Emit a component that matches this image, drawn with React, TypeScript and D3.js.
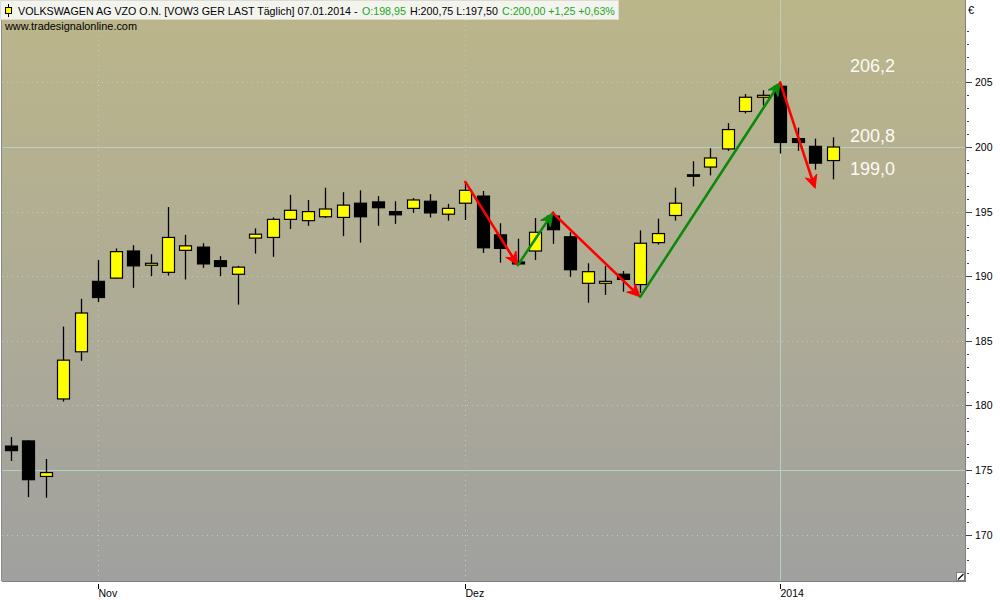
import { useEffect, useRef } from 'react';
import * as d3 from 'd3';

// Daily candles VOW3, 25.10.2013 - 07.01.2014
const dates = [
  '2013-10-25', '2013-10-28', '2013-10-29', '2013-10-30', '2013-10-31',
  '2013-11-01', '2013-11-04', '2013-11-05', '2013-11-06', '2013-11-07', '2013-11-08',
  '2013-11-11', '2013-11-12', '2013-11-13', '2013-11-14', '2013-11-15',
  '2013-11-18', '2013-11-19', '2013-11-20', '2013-11-21', '2013-11-22',
  '2013-11-25', '2013-11-26', '2013-11-27', '2013-11-28', '2013-11-29',
  '2013-12-02', '2013-12-03', '2013-12-04', '2013-12-05', '2013-12-06',
  '2013-12-09', '2013-12-10', '2013-12-11', '2013-12-12', '2013-12-13',
  '2013-12-16', '2013-12-17', '2013-12-18', '2013-12-19', '2013-12-20',
  '2013-12-23', '2013-12-27', '2013-12-30',
  '2014-01-02', '2014-01-03', '2014-01-06', '2014-01-07',
];
const opens = [
  176.85, 177.25, 174.5, 180.5, 184.15,
  189.6, 189.85, 191.95, 190.85, 190.3, 192.0,
  192.25, 191.2, 190.15, 192.95, 193.0,
  194.4, 194.3, 194.6, 194.55, 195.65,
  195.75, 195.0, 195.25, 195.8, 194.8,
  195.65, 196.2, 193.2, 191.1, 191.95,
  194.65, 193.05, 189.45, 189.45, 190.15,
  189.35, 192.6, 194.7, 197.85, 198.45,
  199.85, 202.75, 203.85,
  204.7, 200.65, 200.05, 198.95,
];
const highs = [
  177.55, 177.3, 175.85, 186.1, 188.25,
  191.25, 192.15, 192.4, 191.7, 195.35, 193.2,
  192.55, 191.55, 190.8, 193.7, 194.55,
  196.3, 195.9, 196.85, 196.5, 196.65,
  196.2, 195.8, 196.05, 196.35, 195.6,
  197.3, 196.6, 194.1, 192.9, 194.5,
  195.0, 193.4, 191.0, 190.8, 190.4,
  193.55, 194.45, 196.85, 198.9, 199.9,
  201.85, 204.1, 204.4,
  204.95, 201.5, 200.65, 200.75,
];
const lows = [
  175.7, 172.9, 172.85, 180.3, 183.45,
  188.0, 189.8, 189.1, 190.0, 190.05, 189.75,
  190.65, 190.0, 187.8, 191.75, 191.5,
  193.65, 193.9, 194.5, 193.1, 192.6,
  193.9, 194.05, 194.9, 194.55, 194.3,
  194.35, 191.8, 191.05, 190.9, 191.25,
  192.5, 189.95, 187.95, 188.55, 188.8,
  188.7, 192.45, 194.3, 196.95, 197.8,
  199.7, 202.6, 203.2,
  199.5, 199.7, 198.25, 197.5,
];
const closes = [
  176.5, 174.25, 174.8, 183.5, 187.15,
  188.35, 191.9, 190.8, 191.0, 193.0, 192.35,
  190.95, 190.75, 190.7, 193.25, 194.4,
  195.1, 195.0, 195.2, 195.5, 194.6,
  195.3, 194.75, 195.9, 194.9, 195.25,
  196.65, 192.2, 192.15, 190.95, 193.4,
  193.6, 190.5, 190.35, 189.6, 189.75,
  192.55, 193.3, 195.65, 197.85, 199.15,
  201.35, 203.85, 204.0,
  200.35, 200.35, 198.75, 200.0,
];

// month ticks on the time axis
const monthTickDates = ['2013-11-01', '2013-12-02', '2014-01-02'];
const monthTickLabels = ['Nov', 'Dez', '2014'];
const solidGridDates = ['2014-01-02'];

// price axis
const priceTicks = [170, 175, 180, 185, 190, 195, 200, 205];
const solidGridPrices = [175, 200];

// trend arrows drawn on the chart
const arrowFrom = [
  { date: '2013-12-02', price: 197.3 },
  { date: '2013-12-05', price: 190.85 },
  { date: '2013-12-09', price: 194.9 },
  { date: '2013-12-16', price: 188.4 },
  { date: '2014-01-02', price: 205.0 },
];
const arrowTo = [
  { date: '2013-12-05', price: 190.85 },
  { date: '2013-12-09', price: 194.9 },
  { date: '2013-12-16', price: 188.4 },
  { date: '2014-01-02', price: 205.0 },
  { date: '2014-01-06', price: 196.8 },
];
const arrowDir = ['down', 'up', 'down', 'up', 'down'];

// price annotations on the right
const levelValues = [206.2, 200.8, 199.0];

const W = 1000;
const H = 600;

const fmt = (v: number) => v.toFixed(2).replace('.', ',');

export default function App() {
  const svgRef = useRef<SVGSVGElement>(null);

  useEffect(() => {
    document.body.style.margin = '0';
    if (!svgRef.current) return;

    const left = 2;
    const right = 965;
    const top = 0;
    const bottom = 581;

    const svg = d3.select(svgRef.current);
    svg.selectAll('*').remove();

    const x = d3.scalePoint<string>().domain(dates).range([10.6, 832.6]);
    const y = d3.scaleLinear().domain([175, 200]).range([470, 147]);

    // === background ===
    const defs = svg.append('defs');
    const grad = defs.append('linearGradient')
      .attr('id', 'bg').attr('x1', 0).attr('y1', 0).attr('x2', 0).attr('y2', 1);
    grad.append('stop').attr('offset', '0%').attr('stop-color', '#bbb689');
    grad.append('stop').attr('offset', '55%').attr('stop-color', '#aeab97');
    grad.append('stop').attr('offset', '100%').attr('stop-color', '#a0a09f');

    svg.append('rect').attr('width', W).attr('height', H).attr('fill', '#ffffff');
    svg.append('rect')
      .attr('x', left).attr('y', top)
      .attr('width', right - left).attr('height', bottom - top)
      .attr('fill', 'url(#bg)');

    // === grid ===
    const gridColor = '#b3d2c4';
    priceTicks.forEach((p) => {
      const solid = solidGridPrices.includes(p);
      svg.append('line')
        .attr('x1', left).attr('x2', right)
        .attr('y1', Math.round(y(p)) + 0.5).attr('y2', Math.round(y(p)) + 0.5)
        .attr('stroke', gridColor)
        .attr('stroke-width', 1)
        .attr('stroke-dasharray', solid ? null : '1,4');
    });
    monthTickDates.forEach((d) => {
      const solid = solidGridDates.includes(d);
      const xx = Math.round(x(d)!) + 0.5;
      svg.append('line')
        .attr('x1', xx).attr('x2', xx)
        .attr('y1', top).attr('y2', bottom)
        .attr('stroke', gridColor)
        .attr('stroke-width', 1)
        .attr('stroke-dasharray', solid ? null : '1,4');
    });

    // === candles ===
    const bodyW = 12;
    const g = svg.append('g');
    dates.forEach((d, i) => {
      const cx = Math.round(x(d)!) + 0.5;
      const up = closes[i] > opens[i];
      g.append('line')
        .attr('x1', cx).attr('x2', cx)
        .attr('y1', y(highs[i])).attr('y2', y(lows[i]))
        .attr('stroke', '#000').attr('stroke-width', 1.3);
      const yTop = y(Math.max(opens[i], closes[i]));
      const yBot = y(Math.min(opens[i], closes[i]));
      const h = Math.max(yBot - yTop, 1.5);
      g.append('rect')
        .attr('x', cx - bodyW / 2).attr('y', yTop)
        .attr('width', bodyW).attr('height', h)
        .attr('fill', up ? '#ffff00' : '#000000')
        .attr('stroke', '#000').attr('stroke-width', 1.2);
    });

    // === arrows ===
    const arrowColor = { up: '#0a8a0a', down: '#ff0000' } as const;
    arrowFrom.forEach((a, i) => {
      const b = arrowTo[i];
      const col = arrowColor[arrowDir[i] as 'up' | 'down'];
      const x1 = x(a.date)!, y1 = y(a.price);
      const x2 = x(b.date)!, y2 = y(b.price);
      const ang = Math.atan2(y2 - y1, x2 - x1);
      const headL = 13, headW = 6;
      const bx = x2 - Math.cos(ang) * headL;
      const by = y2 - Math.sin(ang) * headL;
      const nx = x2 - Math.cos(ang) * (headL - 4);
      const ny = y2 - Math.sin(ang) * (headL - 4);
      svg.append('line')
        .attr('x1', x1).attr('y1', y1).attr('x2', nx).attr('y2', ny)
        .attr('stroke', col).attr('stroke-width', 2.6).attr('stroke-linecap', 'round');
      const px = -Math.sin(ang), py = Math.cos(ang);
      svg.append('path')
        .attr('d', `M${x2},${y2} L${bx + px * headW},${by + py * headW} L${nx},${ny} L${bx - px * headW},${by - py * headW} Z`)
        .attr('fill', col).attr('stroke', col).attr('stroke-width', 1);
    });

    // === level labels ===
    let prevBase = -Infinity;
    levelValues.forEach((v) => {
      let base = y(v) + 5.5;
      if (base - prevBase < 33) base = prevBase + 33;
      prevBase = base;
      svg.append('text')
        .attr('x', 850).attr('y', base)
        .attr('font-family', 'Liberation Sans, Arial, sans-serif')
        .attr('font-size', 18)
        .attr('fill', '#fbfbf6')
        .text(v.toFixed(1).replace('.', ','));
    });

    // === right price axis ===
    svg.append('line')
      .attr('x1', right + 0.5).attr('x2', right + 0.5)
      .attr('y1', top).attr('y2', bottom)
      .attr('stroke', '#7f7f7f');
    d3.range(167, 210).forEach((p) => {
      const yy = Math.round(y(p)) + 0.5;
      if (yy > bottom - 3 || yy < top + 3) return;
      const major = priceTicks.includes(p);
      svg.append('line')
        .attr('x1', major ? right + 1 : right + 2).attr('x2', major ? right + 7 : right + 4)
        .attr('y1', yy).attr('y2', yy)
        .attr('stroke', '#444');
    });
    priceTicks.forEach((p) => {
      svg.append('text')
        .attr('x', 975).attr('y', y(p) + 4)
        .attr('font-family', 'Liberation Sans, Arial, sans-serif')
        .attr('font-size', 10.5)
        .attr('fill', '#000')
        .text(String(p));
    });
    svg.append('text')
      .attr('x', 968).attr('y', 14)
      .attr('font-family', 'Liberation Sans, Arial, sans-serif')
      .attr('font-size', 11)
      .attr('fill', '#000')
      .text('€');

    // === bottom time axis ===
    svg.append('line')
      .attr('x1', left).attr('x2', right + 1)
      .attr('y1', bottom + 0.5).attr('y2', bottom + 0.5)
      .attr('stroke', '#7f7f7f');
    svg.append('line')
      .attr('x1', left - 0.5).attr('x2', left - 0.5)
      .attr('y1', top).attr('y2', bottom)
      .attr('stroke', '#8a8a8a');
    monthTickDates.forEach((d, i) => {
      const xx = Math.round(x(d)!) + 0.5;
      svg.append('line')
        .attr('x1', xx).attr('x2', xx)
        .attr('y1', bottom + 3).attr('y2', bottom + 8)
        .attr('stroke', '#000');
      svg.append('text')
        .attr('x', xx).attr('y', 597)
        .attr('font-family', 'Liberation Sans, Arial, sans-serif')
        .attr('font-size', 10.5)
        .attr('fill', '#000')
        .text(monthTickLabels[i]);
    });

    // resize grip
    svg.append('rect')
      .attr('x', right - 8.5).attr('y', bottom - 8.5)
      .attr('width', 8).attr('height', 8)
      .attr('fill', '#fff').attr('stroke', '#7f7f7f');
    svg.append('line')
      .attr('x1', right - 7).attr('y1', bottom - 1.5)
      .attr('x2', right - 1.5).attr('y2', bottom - 7)
      .attr('stroke', '#000').attr('stroke-width', 1.3);

    // === header ===
    const last = dates.length - 1;
    const change = closes[last] - closes[last - 1];
    const pct = (change / closes[last - 1]) * 100;
    svg.append('rect')
      .attr('x', 0.5).attr('y', 0.5).attr('width', 618).attr('height', 19)
      .attr('fill', '#f4f4ef').attr('stroke', '#dcdcd2');
    // small candle icon
    svg.append('line')
      .attr('x1', 8.5).attr('x2', 8.5).attr('y1', 4).attr('y2', 17)
      .attr('stroke', '#000');
    svg.append('rect')
      .attr('x', 5.5).attr('y', 7.5).attr('width', 6).attr('height', 6)
      .attr('fill', '#ffff00').attr('stroke', '#000');

    const green = '#1aa61a';
    const headerParts = [
      { t: 'VOLKSWAGEN AG VZO O.N. [VOW3 GER LAST Täglich] 07.01.2014 -', c: '#000' },
      { t: `O:${fmt(opens[last])}`, c: green },
      { t: `H:${fmt(highs[last])} L:${fmt(lows[last])}`, c: '#000' },
      { t: `C:${fmt(closes[last])} ${change >= 0 ? '+' : ''}${fmt(change)} ${pct >= 0 ? '+' : ''}${fmt(pct)}%`, c: green },
    ];
    const headerStart = 18;
    const headerWidth = 597;
    const gap = 4;
    const headerTexts = headerParts.map((p) =>
      svg.append('text')
        .attr('y', 14.5)
        .attr('font-family', 'Liberation Sans, Arial, sans-serif')
        .attr('font-size', 12)
        .attr('fill', p.c)
        .text(p.t)
    );
    const natural = headerTexts.map((t) => (t.node() as SVGTextElement).getComputedTextLength());
    const gaps = gap * (natural.length - 1);
    const k = (headerWidth - gaps) / d3.sum(natural);
    let cursor = headerStart;
    headerTexts.forEach((t, i) => {
      t.attr('x', cursor).attr('font-size', 12 * k);
      cursor += natural[i] * k + gap;
    });

    svg.append('text')
      .attr('x', 5).attr('y', 30)
      .attr('font-family', 'Liberation Sans, Arial, sans-serif')
      .attr('font-size', 11)
      .attr('textLength', 132)
      .attr('lengthAdjust', 'spacingAndGlyphs')
      .attr('fill', '#000')
      .text('www.tradesignalonline.com');
  }, []);

  return (
    <div style={{ width: W, height: H }}>
      <svg ref={svgRef} width={W} height={H} style={{ display: 'block' }} />
    </div>
  );
}
